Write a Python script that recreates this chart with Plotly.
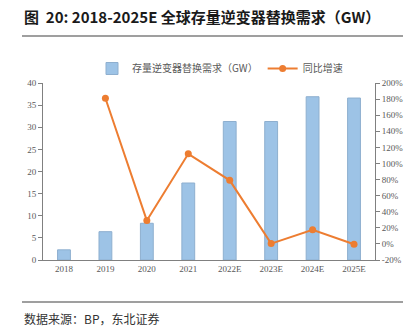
import plotly.graph_objects as go

categories = ["2018", "2019", "2020", "2021", "2022E", "2023E", "2024E", "2025E"]
demand_gw = [2.3, 6.4, 8.3, 17.4, 31.3, 31.3, 36.9, 36.6]
growth_pct = [None, 181, 29, 112, 79, 0.4, 17.5, -0.4]
left_ticks = [0, 5, 10, 15, 20, 25, 30, 35, 40]
right_ticks = [-20, 0, 20, 40, 60, 80, 100, 120, 140, 160, 180, 200]

W, H = 419, 332
L, R, T, B = 43, 44, 83, 72
pw = W - L - R
ph = H - T - B

def px(x):
    return (x - L) / pw

def py(y):
    return (H - B - y) / ph

cjk = "Noto Sans CJK SC"
serif = "Liberation Serif"

fig = go.Figure()
fig.add_trace(go.Bar(
    x=categories, y=demand_gw, name="存量逆变器替换需求（GW）",
    marker=dict(color="#9DC3E6", line=dict(color="#8EAFCF", width=1)),
    yaxis="y",
))
fig.add_trace(go.Scatter(
    x=categories, y=growth_pct, name="同比增速", mode="lines+markers",
    line=dict(color="#ED7D31", width=2),
    marker=dict(color="#ED7D31", size=7),
    yaxis="y2", connectgaps=False,
))

fig.update_layout(
    width=W, height=H,
    margin=dict(l=L, r=R, t=T, b=B),
    paper_bgcolor="white", plot_bgcolor="white",
    bargap=0.69,
    showlegend=True,
    legend=dict(orientation="h", x=px(92), y=py(54), xanchor="left", yanchor="top",
                font=dict(family=cjk, size=10, color="#595959"),
                itemwidth=30, tracegroupgap=0, bgcolor="rgba(0,0,0,0)"),
    xaxis=dict(showline=True, linecolor="#808080", linewidth=1, ticks="",
               tickfont=dict(family=serif, size=9, color="#595959"),
               showgrid=False, zeroline=False),
    yaxis=dict(range=[0, 40], tickvals=left_ticks, showline=True, linecolor="#808080",
               linewidth=1, ticks="outside", ticklen=4, tickcolor="#808080",
               tickfont=dict(family=serif, size=9, color="#595959"),
               showgrid=False, zeroline=False),
    yaxis2=dict(range=[-20, 200], tickvals=right_ticks, ticktext=[f"{v}%" for v in right_ticks],
                overlaying="y", side="right", showline=True, linecolor="#808080",
                linewidth=1, ticks="outside", ticklen=4, tickcolor="#808080",
                tickfont=dict(family=serif, size=9, color="#595959"),
                showgrid=False, zeroline=False),
    shapes=[
        dict(type="line", xref="paper", yref="paper", x0=px(22), x1=px(403), y0=py(36), y1=py(36),
             line=dict(color="#404040", width=1.2)),
        dict(type="line", xref="paper", yref="paper", x0=px(22), x1=px(403), y0=py(302), y1=py(302),
             line=dict(color="#404040", width=1.2)),
    ],
    annotations=[
        dict(text="<b>图  20: 2018-2025E 全球存量逆变器替换需求（GW）</b>", xref="paper", yref="paper",
             x=px(22), y=py(16), xanchor="left", yanchor="middle", showarrow=False,
             font=dict(family=cjk, size=15, color="#1a1a1a")),
        dict(text="数据来源：BP，东北证券", xref="paper", yref="paper",
             x=px(22), y=py(318), xanchor="left", yanchor="middle", showarrow=False,
             font=dict(family=cjk, size=12, color="#333333")),
    ],
)

fig.write_html("out.html")
